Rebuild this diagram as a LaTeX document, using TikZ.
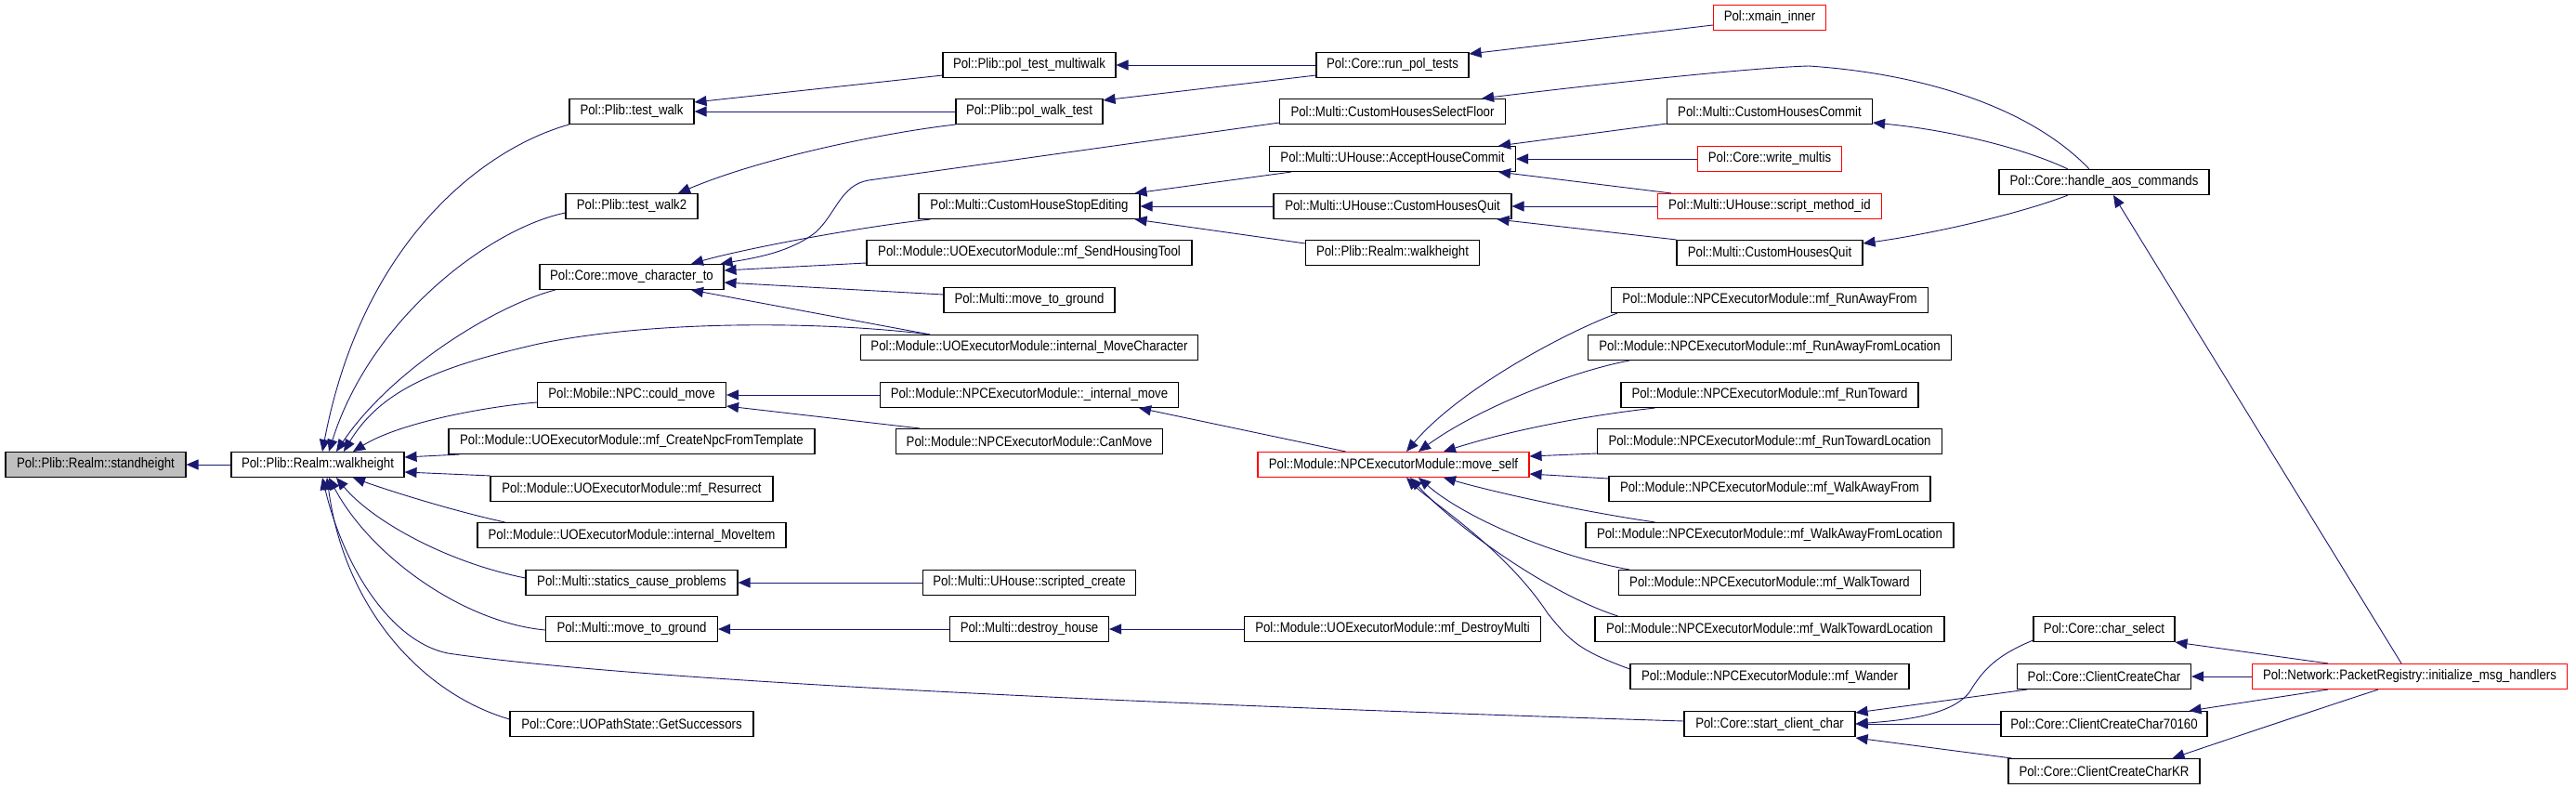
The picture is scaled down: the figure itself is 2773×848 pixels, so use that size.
\documentclass[tikz,border=0pt]{standalone}
\usepackage{fontspec}
\setmainfont{Liberation Sans}[FakeStretch=0.87]
\usetikzlibrary{arrows.meta,calc}
\definecolor{edgec}{HTML}{191970}
\definecolor{grayfill}{HTML}{BFBFBF}
\definecolor{redb}{HTML}{FF0000}
\tikzset{
  box/.style={draw=black, rectangle, minimum height=27pt, inner sep=0pt, line width=1.1pt,
    font=\fontsize{15.2}{18}\selectfont},
  redbox/.style={box, draw=redb},
  edge/.style={draw=edgec, line width=0.9pt, -{Triangle[length=13pt,width=11pt]}, fill=none}
}
\begin{document}
\begin{tikzpicture}[x=1pt,y=-1pt]
\fill[white] (0,0) rectangle (2773,848);
\useasboundingbox (0,0) rectangle (2773,848);
% column 1
\node[box,minimum width=194,fill=grayfill] (sh) at (103,500) {Pol::Plib::Realm::standheight};
\node[box,minimum width=186] (wh) at (342,500) {Pol::Plib::Realm::walkheight};
% column 2
\node[box,minimum width=134] (tw) at (680,120) {Pol::Plib::test\_walk};
\node[box,minimum width=142] (tw2) at (680,222) {Pol::Plib::test\_walk2};
\node[box,minimum width=198] (mct) at (680,298) {Pol::Core::move\_character\_to};
\node[box,minimum width=203] (cm) at (680,425) {Pol::Mobile::NPC::could\_move};
\node[box,minimum width=394] (cnft) at (680,475) {Pol::Module::UOExecutorModule::mf\_CreateNpcFromTemplate};
\node[box,minimum width=304] (res) at (680,526) {Pol::Module::UOExecutorModule::mf\_Resurrect};
\node[box,minimum width=332] (mi) at (680,576) {Pol::Module::UOExecutorModule::internal\_MoveItem};
\node[box,minimum width=228] (scp) at (680,627) {Pol::Multi::statics\_cause\_problems};
\node[box,minimum width=185] (mtg) at (680,677) {Pol::Multi::move\_to\_ground};
\node[box,minimum width=262] (gs) at (680,779) {Pol::Core::UOPathState::GetSuccessors};
% column 3
\node[box,minimum width=186] (ptm) at (1108,70) {Pol::Plib::pol\_test\_multiwalk};
\node[box,minimum width=158] (pwt) at (1108,120) {Pol::Plib::pol\_walk\_test};
\node[box,minimum width=238] (chse) at (1108,222) {Pol::Multi::CustomHouseStopEditing};
\node[box,minimum width=350] (sht) at (1108,272) {Pol::Module::UOExecutorModule::mf\_SendHousingTool};
\node[box,minimum width=184] (mtg2) at (1108,323) {Pol::Multi::move\_to\_ground};
\node[box,minimum width=363] (imc) at (1108,374) {Pol::Module::UOExecutorModule::internal\_MoveCharacter};
\node[box,minimum width=321] (im) at (1108,425) {Pol::Module::NPCExecutorModule::\_internal\_move};
\node[box,minimum width=287] (cmv) at (1108,475) {Pol::Module::NPCExecutorModule::CanMove};
\node[box,minimum width=229] (sc) at (1108,627) {Pol::Multi::UHouse::scripted\_create};
\node[box,minimum width=171] (dh) at (1108,677) {Pol::Multi::destroy\_house};
% column 4
\node[box,minimum width=164] (rpt) at (1499,70) {Pol::Core::run\_pol\_tests};
\node[box,minimum width=243] (chsf) at (1499,120) {Pol::Multi::CustomHousesSelectFloor};
\node[box,minimum width=265] (ahc) at (1499,171) {Pol::Multi::UHouse::AcceptHouseCommit};
\node[box,minimum width=256] (uchq) at (1499,222) {Pol::Multi::UHouse::CustomHousesQuit};
\node[box,minimum width=187] (wh2) at (1499,272) {Pol::Plib::Realm::walkheight};
\node[redbox,minimum width=292] (ms) at (1500,500) {Pol::Module::NPCExecutorModule::move\_self};
\node[box,minimum width=319] (dm) at (1499,677) {Pol::Module::UOExecutorModule::mf\_DestroyMulti};
% column 5
\node[redbox,minimum width=121] (xmi) at (1905,19) {Pol::xmain\_inner};
\node[box,minimum width=221] (chc) at (1905,120) {Pol::Multi::CustomHousesCommit};
\node[redbox,minimum width=155] (wm) at (1905,171) {Pol::Core::write\_multis};
\node[redbox,minimum width=241] (smi) at (1905,222) {Pol::Multi::UHouse::script\_method\_id};
\node[box,minimum width=200] (mchq) at (1905,272) {Pol::Multi::CustomHousesQuit};
\node[box,minimum width=341] (rafr) at (1905,323) {Pol::Module::NPCExecutorModule::mf\_RunAwayFrom};
\node[box,minimum width=391] (rafl) at (1905,374) {Pol::Module::NPCExecutorModule::mf\_RunAwayFromLocation};
\node[box,minimum width=320] (rt) at (1905,425) {Pol::Module::NPCExecutorModule::mf\_RunToward};
\node[box,minimum width=371] (rtl) at (1905,475) {Pol::Module::NPCExecutorModule::mf\_RunTowardLocation};
\node[box,minimum width=346] (waf) at (1905,526) {Pol::Module::NPCExecutorModule::mf\_WalkAwayFrom};
\node[box,minimum width=396] (wafl) at (1905,576) {Pol::Module::NPCExecutorModule::mf\_WalkAwayFromLocation};
\node[box,minimum width=325] (wt) at (1905,627) {Pol::Module::NPCExecutorModule::mf\_WalkToward};
\node[box,minimum width=376] (wtl) at (1905,677) {Pol::Module::NPCExecutorModule::mf\_WalkTowardLocation};
\node[box,minimum width=300] (wa) at (1905,728) {Pol::Module::NPCExecutorModule::mf\_Wander};
\node[box,minimum width=184] (scc) at (1905,779) {Pol::Core::start\_client\_char};
% column 6
\node[box,minimum width=226] (hac) at (2265,196) {Pol::Core::handle\_aos\_commands};
\node[box,minimum width=152] (cs) at (2265,677) {Pol::Core::char\_select};
\node[box,minimum width=187] (ccc) at (2265,728) {Pol::Core::ClientCreateChar};
\node[box,minimum width=222] (ccc7) at (2265,779) {Pol::Core::ClientCreateChar70160};
\node[box,minimum width=206] (cckr) at (2265,830) {Pol::Core::ClientCreateCharKR};
% column 7
\node[redbox,minimum width=339] (imh) at (2594,728) {Pol::Network::PacketRegistry::initialize\_msg\_handlers};

% ---- edges into walkheight / standheight
\draw[edge] (wh.west) -- (sh.east);
\draw[edge] (tw.south west) .. controls (520,160) and (390,260) .. ($(wh.north)+(5,0)$);
\draw[edge] ($(tw2.south west)+(0,-7)$) .. controls (530,245) and (400,340) .. ($(wh.north)+(12,0)$);
\draw[edge] ($(mct.south west)+(17,0)$) .. controls (530,330) and (420,400) .. ($(wh.north)+(20,0)$);
\draw[edge] ($(imc.north west)+(75,0)$) .. controls (880,345) and (700,345) .. (580,370) .. controls (470,395) and (410,420) .. ($(wh.north)+(28,0)$);
\draw[edge] ($(cm.west)+(0,8)$) .. controls (520,438) and (430,455) .. ($(wh.north)+(38,0)$);
\draw[edge] ($(cnft.south west)+(12,0)$) -- ($(wh.east)+(0,-8)$);
\draw[edge] (res.north west) -- ($(wh.east)+(0,8)$);
\draw[edge] ($(mi.north west)+(30,0)$) .. controls (480,548) and (410,525) .. ($(wh.south)+(38,0)$);
\draw[edge] ($(scp.west)+(0,-5)$) .. controls (480,605) and (400,560) .. ($(wh.south)+(20,0)$);
\draw[edge] ($(mtg.west)+(0,1)$) .. controls (500,670) and (400,600) .. ($(wh.south)+(12,0)$);
\draw[edge] ($(scc.west)+(0,-3)$) .. controls (1300,760) and (700,735) .. (482,703) .. controls (420,690) and (370,610) .. ($(wh.south)+(5,0)$);
\draw[edge] ($(gs.west)+(0,-5)$) .. controls (450,745) and (370,650) .. ($(wh.south)+(10,0)$);

% ---- second level
\draw[edge] ($(ptm.south west)+(0,-3)$) -- ($(tw.east)+(0,-10)$);
\draw[edge] (pwt.west) -- (tw.east);
\draw[edge] (pwt.south west) .. controls (950,143) and (820,170) .. ($(tw2.north)+(50,0)$);
\draw[edge] ($(chsf.south west)+(0,-2)$) -- (935,194) .. controls (905,199) and (900,230) .. (878,250) .. controls (850,272) and (810,278) .. ($(mct.north east)+(-4,0)$);
\draw[edge] ($(chse.south west)+(13,0)$) .. controls (920,245) and (800,268) .. ($(mct.north)+(64,0)$);
\draw[edge] ($(sht.west)+(0,11)$) -- ($(mct.east)+(0,-7)$);
\draw[edge] ($(mtg2.west)+(0,-6)$) -- ($(mct.east)+(0,6)$);
\draw[edge] ($(imc.north west)+(75,0)$) -- ($(mct.south)+(64,0)$);
\draw[edge] (im.west) -- (cm.east);
\draw[edge] ($(cmv.north west)+(26,0)$) -- ($(cm.east)+(0,12)$);
\draw[edge] (sc.west) -- (scp.east);
\draw[edge] (dh.west) -- (mtg.east);
\draw[edge] (dm.west) -- (dh.east);

% ---- third level
\draw[edge] (rpt.west) -- (ptm.east);
\draw[edge] ($(rpt.south west)+(0,-3)$) -- ($(pwt.north east)+(0,2)$);
\draw[edge] ($(xmi.west)+(0,8)$) -- ($(rpt.east)+(0,-12)$);
\draw[edge] ($(hac.north)+(-16,0)$) .. controls (2190,120) and (2080,80) .. (1947,71) .. controls (1880,73) and (1700,93) .. ($(chsf.north east)+(-26,0)$);
\draw[edge] ($(ahc.south west)+(24,0)$) -- ($(chse.north east)+(-6,0)$);
\draw[edge] (uchq.west) -- (chse.east);
\draw[edge] ($(wh2.west)+(0,-10)$) -- ($(chse.south east)+(-6,0)$);
\draw[edge] ($(ms.north west)+(95,0)$) -- ($(im.south east)+(-43,0)$);
\draw[edge] ($(chc.south west)+(0,-1)$) -- ($(ahc.north east)+(-19,0)$);
\draw[edge] (wm.west) -- (ahc.east);
\draw[edge] ($(smi.north west)+(15,0)$) -- ($(ahc.south east)+(-19,0)$);
\draw[edge] (smi.west) -- (uchq.east);
\draw[edge] (mchq.north west) -- ($(uchq.south east)+(-16,0)$);
\draw[edge] ($(hac.north)+(-39,0)$) .. controls (2180,160) and (2100,140) .. ($(chc.south east)+(0,-2)$);
\draw[edge] ($(hac.south)+(-39,0)$) .. controls (2180,228) and (2090,250) .. ($(mchq.east)+(0,-10)$);
\draw[edge] ($(imh.north)+(-9,0)$) -- ($(hac.south)+(10,0)$);

% ---- callers of move_self
\draw[edge] ($(rafr.south west)+(7,0)$) .. controls (1680,360) and (1570,420) .. ($(ms.north)+(14,0)$);
\draw[edge] ($(rafl.south west)+(45,0)$) .. controls (1690,400) and (1590,440) .. ($(ms.north)+(27,0)$);
\draw[edge] ($(rt.south west)+(37,0)$) .. controls (1700,448) and (1620,465) .. ($(ms.north)+(54,0)$);
\draw[edge] ($(rtl.west)+(0,13)$) -- ($(ms.east)+(0,-9)$);
\draw[edge] ($(waf.west)+(0,-11)$) -- ($(ms.east)+(0,10)$);
\draw[edge] ($(wafl.north west)+(75,0)$) .. controls (1700,550) and (1610,530) .. ($(ms.south)+(54,0)$);
\draw[edge] ($(wt.north west)+(12,0)$) .. controls (1680,600) and (1580,560) .. ($(ms.south)+(27,0)$);
\draw[edge] ($(wtl.north west)+(25,0)$) .. controls (1670,640) and (1570,570) .. ($(ms.south)+(18,0)$);
\draw[edge] ($(wa.west)+(0,-8)$) .. controls (1700,700) and (1690,690) .. (1666,660) .. controls (1620,590) and (1540,540) .. ($(ms.south)+(14,0)$);

% ---- callers of start_client_char
\draw[edge] ($(cs.south west)+(0,-2)$) .. controls (2150,705) and (2135,720) .. (2120,745) .. controls (2100,770) and (2050,775) .. (scc.east);
\draw[edge] ($(ccc.south west)+(11,0)$) -- ($(scc.east)+(0,-12)$);
\draw[edge] (ccc7.west) -- (scc.east);
\draw[edge] ($(cckr.north west)+(4,0)$) -- ($(scc.east)+(0,15)$);

% ---- callers from initialize_msg_handlers
\draw[edge] ($(imh.north west)+(82,0)$) -- (cs.south east);
\draw[edge] (imh.west) -- (ccc.east);
\draw[edge] ($(imh.south west)+(82,0)$) -- ($(ccc7.north east)+(-20,0)$);
\draw[edge] ($(imh.south)+(-34,0)$) .. controls (2520,755) and (2400,795) .. ($(cckr.north east)+(-30,0)$);
\end{tikzpicture}
\end{document}
